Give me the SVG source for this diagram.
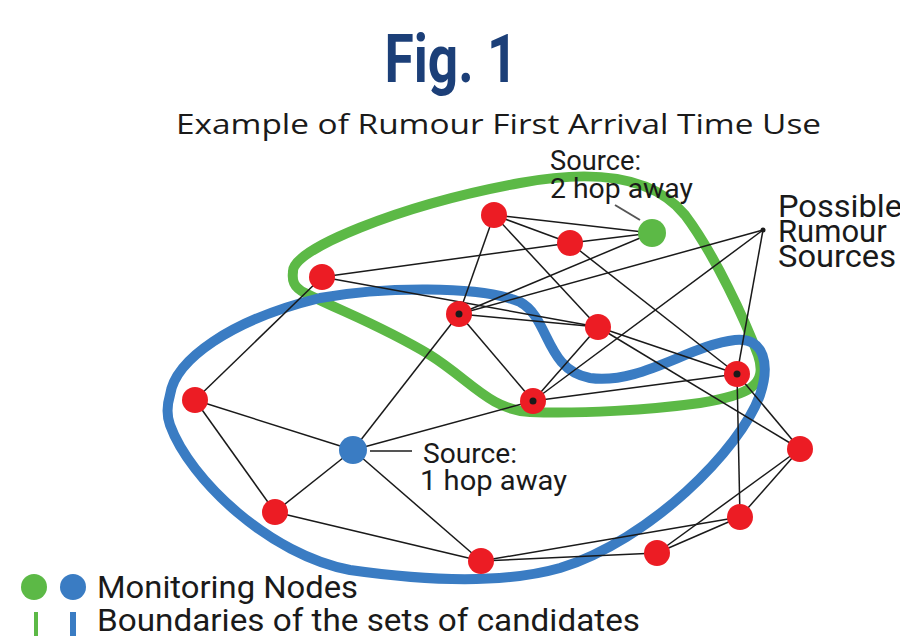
<svg xmlns="http://www.w3.org/2000/svg" width="900" height="638" viewBox="0 0 900 638">
<style>
.edge{stroke:#1a1a1a;stroke-width:1.5;fill:none}
.lead{stroke:#555;stroke-width:2;fill:none}
.red{fill:#ec1c24}
.dot{fill:#1a1a1a}
.lbl{font-family:Roboto,"Liberation Sans",sans-serif;fill:#1a1a1a}
</style>
<rect width="900" height="638" fill="#fff"/>
<text x="451" y="82" text-anchor="middle" font-family="Roboto,'Liberation Sans',sans-serif" font-weight="700" font-size="66" fill="#1c3f78" textLength="133" lengthAdjust="spacingAndGlyphs">Fig. 1</text>
<text x="176" y="134" font-family="'Open Sans','Noto Sans',sans-serif" font-size="28" fill="#1a1a1a" textLength="645" lengthAdjust="spacingAndGlyphs">Example of Rumour First Arrival Time Use</text>

<g id="boundaries">
<path id="green-boundary" d="M 293,272 C 290,250 400,205 520,183 C 600,168 655,178 685,215 C 715,255 745,320 758,355 C 768,385 750,395 700,403 C 650,410 580,414 530,412 C 490,410 470,380 430,355 C 380,325 345,313 305,293 C 293,287 292,280 293,272 Z" fill="none" stroke="#5cb946" stroke-width="10"/>
<path id="blue-boundary" d="M 170,395 C 175,360 230,320 320,298 C 380,287 480,285 520,302 C 550,318 545,370 590,378 C 640,385 690,345 735,340 C 765,337 770,365 760,395 C 740,450 650,540 560,568 C 500,585 420,580 350,570 C 270,555 190,480 170,425 C 166,414 167,405 170,395 Z" fill="none" stroke="#3a7cc3" stroke-width="10"/>
</g>

<g id="connectors">
<line class="edge" x1="494" y1="215" x2="652" y2="233"/>
<line class="edge" x1="494" y1="215" x2="570" y2="243"/>
<line class="edge" x1="494" y1="215" x2="459" y2="314"/>
<line class="edge" x1="494" y1="215" x2="598" y2="327"/>
<line class="edge" x1="570" y1="243" x2="652" y2="233"/>
<line class="edge" x1="322" y1="277" x2="570" y2="243"/>
<line class="edge" x1="570" y1="243" x2="737" y2="374"/>
<line class="edge" x1="322" y1="277" x2="598" y2="327"/>
<line class="edge" x1="322" y1="277" x2="195" y2="400"/>
<line class="edge" x1="459" y1="314" x2="652" y2="233"/>
<line class="edge" x1="459" y1="314" x2="598" y2="327"/>
<line class="edge" x1="459" y1="314" x2="533" y2="401"/>
<line class="edge" x1="353" y1="450" x2="459" y2="314"/>
<line class="edge" x1="598" y1="327" x2="533" y2="401"/>
<line class="edge" x1="598" y1="327" x2="737" y2="374"/>
<line class="edge" x1="598" y1="327" x2="800" y2="449"/>
<line class="edge" x1="533" y1="401" x2="737" y2="374"/>
<line class="edge" x1="353" y1="450" x2="533" y2="401"/>
<line class="edge" x1="737" y1="374" x2="740" y2="517"/>
<line class="edge" x1="737" y1="374" x2="800" y2="449"/>
<line class="edge" x1="800" y1="449" x2="740" y2="517"/>
<line class="edge" x1="800" y1="449" x2="657" y2="553"/>
<line class="edge" x1="740" y1="517" x2="657" y2="553"/>
<line class="edge" x1="740" y1="517" x2="481" y2="561"/>
<line class="edge" x1="481" y1="561" x2="657" y2="553"/>
<line class="edge" x1="353" y1="450" x2="481" y2="561"/>
<line class="edge" x1="275" y1="512" x2="481" y2="561"/>
<line class="edge" x1="353" y1="450" x2="275" y2="512"/>
<line class="edge" x1="195" y1="400" x2="275" y2="512"/>
<line class="edge" x1="195" y1="400" x2="353" y2="450"/>
<line class="edge" x1="763" y1="230" x2="459" y2="314"/>
<line class="edge" x1="763" y1="230" x2="533" y2="401"/>
<line class="edge" x1="763" y1="230" x2="737" y2="374"/>
<line class="lead" x1="615" y1="205" x2="640" y2="220"/>
<line class="lead" x1="370" y1="451" x2="412" y2="451"/>
</g>

<g id="n1"><circle class="red" cx="494" cy="215" r="13"/></g>
<g id="n2"><circle class="red" cx="570" cy="243" r="13"/></g>
<g id="monitor-green"><circle cx="652" cy="233" r="14" fill="#5cb946"/></g>
<g id="n3"><circle class="red" cx="322" cy="277" r="13"/></g>
<g id="n4"><circle class="red" cx="459" cy="314" r="13"/><circle class="dot" cx="459" cy="314" r="3.5"/></g>
<g id="n5"><circle class="red" cx="598" cy="327" r="13"/></g>
<g id="n6"><circle class="red" cx="737" cy="374" r="13"/><circle class="dot" cx="737" cy="374" r="3.5"/></g>
<g id="n7"><circle class="red" cx="533" cy="401" r="13"/><circle class="dot" cx="533" cy="401" r="3.5"/></g>
<g id="n8"><circle class="red" cx="195" cy="400" r="13"/></g>
<g id="monitor-blue"><circle cx="353" cy="450" r="14" fill="#3a7cc3"/></g>
<g id="n9"><circle class="red" cx="800" cy="449" r="13"/></g>
<g id="n10"><circle class="red" cx="275" cy="512" r="13"/></g>
<g id="n11"><circle class="red" cx="740" cy="517" r="13"/></g>
<g id="n12"><circle class="red" cx="481" cy="561" r="13"/></g>
<g id="n13"><circle class="red" cx="657" cy="553" r="13"/></g>
<g id="possible-point"><circle class="dot" cx="763" cy="230" r="2.5"/></g>

<g id="label-source2">
<text class="lbl" x="550" y="170" font-size="28" textLength="91" lengthAdjust="spacingAndGlyphs">Source:</text>
<text class="lbl" x="550" y="198" font-size="28" textLength="143" lengthAdjust="spacingAndGlyphs">2 hop away</text>
</g>
<g id="label-source1">
<text class="lbl" x="423" y="463" font-size="28" textLength="94" lengthAdjust="spacingAndGlyphs">Source:</text>
<text class="lbl" x="420" y="490" font-size="28" textLength="147" lengthAdjust="spacingAndGlyphs">1 hop away</text>
</g>
<g id="label-possible">
<text class="lbl" x="778" y="217" font-size="31" textLength="124" lengthAdjust="spacingAndGlyphs">Possible</text>
<text class="lbl" x="778" y="242" font-size="31">Rumour</text>
<text class="lbl" x="778" y="267" font-size="31" textLength="118" lengthAdjust="spacingAndGlyphs">Sources</text>
</g>

<g id="legend">
<circle cx="34" cy="587" r="13" fill="#5cb946"/>
<circle cx="73" cy="587" r="13" fill="#3a7cc3"/>
<text class="lbl" x="97" y="598" font-size="32" textLength="261" lengthAdjust="spacingAndGlyphs">Monitoring Nodes</text>
<rect x="34" y="612" width="4" height="24" fill="#5cb946"/>
<rect x="70" y="612" width="6" height="24" fill="#3a7cc3"/>
<text class="lbl" x="97" y="631" font-size="31" textLength="543" lengthAdjust="spacingAndGlyphs">Boundaries of the sets of candidates</text>
</g>
</svg>
